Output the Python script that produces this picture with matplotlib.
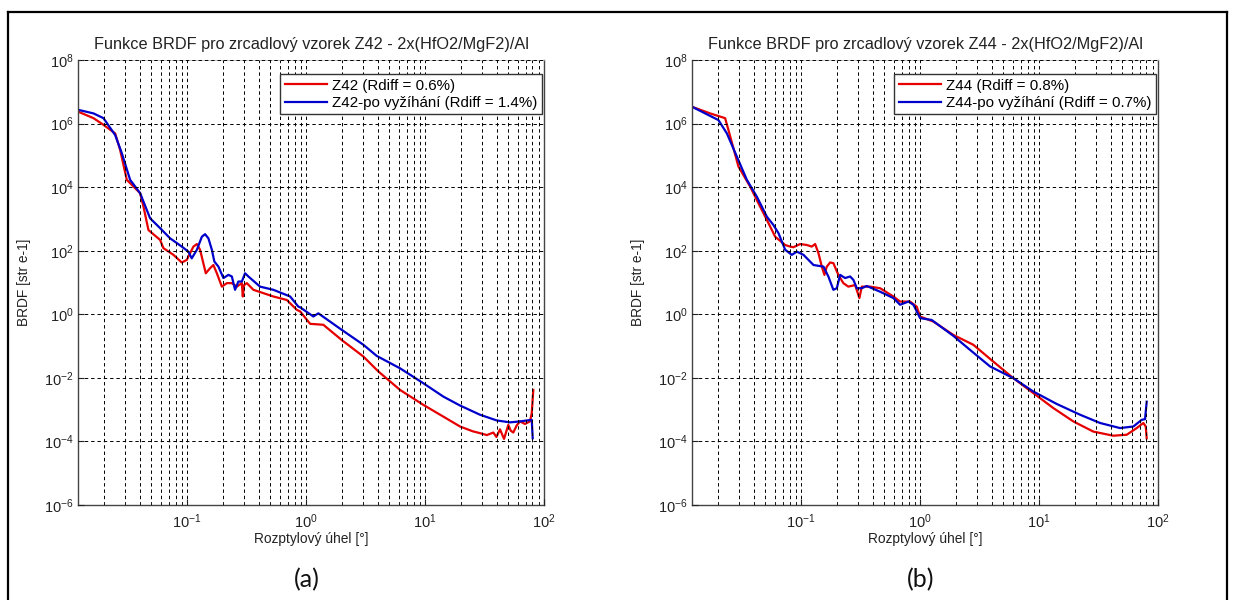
import numpy as np
import matplotlib
matplotlib.use("Agg")
import matplotlib.pyplot as plt
from matplotlib.lines import Line2D
from matplotlib.ticker import LogLocator, NullFormatter, FixedLocator

plt.rcParams['font.family'] = ['Liberation Sans', 'DejaVu Sans']
plt.rcParams['mathtext.default'] = 'regular'
plt.rcParams['axes.unicode_minus'] = False

# ---------------- data (log10 of angle [deg], log10 of BRDF) ----------------
z42_lx = [-1.913, -1.787, -1.703, -1.605, -1.563, -1.507, -1.395, -1.367, -1.325, -1.227,
          -1.199, -1.115, -1.045, -1.003, -0.947, -0.918, -0.891, -0.843, -0.807, -0.779,
          -0.750, -0.708, -0.666, -0.624, -0.582, -0.540, -0.532, -0.521, -0.498, -0.443,
          -0.275, -0.162, -0.078, -0.050, 0.034, 0.145, 0.300, 0.482, 0.608, 0.790,
          0.986, 1.154, 1.294, 1.400, 1.462, 1.520, 1.574, 1.600, 1.630, 1.664,
          1.700, 1.720, 1.742, 1.770, 1.798, 1.840, 1.882, 1.897, 1.910]
z42_ly = [6.37, 6.17, 5.96, 5.69, 5.17, 4.23, 3.81, 3.39, 2.65, 2.34,
          2.08, 1.87, 1.63, 1.71, 2.13, 2.21, 2.03, 1.29, 1.45, 1.55,
          1.29, 0.87, 0.98, 0.98, 0.87, 0.98, 0.56, 0.92, 0.98, 0.77,
          0.56, 0.45, 0.14, 0.09, -0.30, -0.33, -0.81, -1.33, -1.80, -2.38,
          -2.85, -3.22, -3.53, -3.68, -3.74, -3.80, -3.72, -3.86, -3.62, -3.92,
          -3.48, -3.66, -3.72, -3.50, -3.37, -3.45, -3.37, -3.11, -2.38]

z42po_lx = [-1.913, -1.787, -1.703, -1.605, -1.549, -1.479, -1.395, -1.311, -1.227, -1.143,
            -1.045, -0.989, -0.961, -0.918, -0.876, -0.849, -0.821, -0.792, -0.771, -0.737,
            -0.695, -0.653, -0.624, -0.597, -0.569, -0.540, -0.513, -0.485, -0.387, -0.275,
            -0.134, -0.065, -0.050, 0.061, 0.103, 0.300, 0.482, 0.594, 0.790, 0.986,
            1.154, 1.294, 1.462, 1.603, 1.714, 1.798, 1.897, 1.905]
z42po_ly = [6.43, 6.32, 6.17, 5.64, 5.07, 4.23, 3.81, 3.02, 2.71, 2.39,
            2.13, 1.97, 1.76, 2.03, 2.44, 2.52, 2.39, 2.03, 1.66, 1.50,
            1.14, 1.24, 1.19, 0.77, 1.03, 1.03, 1.29, 1.19, 0.87, 0.77,
            0.56, 0.24, 0.22, -0.07, 0.03, -0.49, -0.96, -1.31, -1.70, -2.17,
            -2.59, -2.87, -3.16, -3.34, -3.40, -3.37, -3.32, -3.90]

z44_lx = [-1.918, -1.765, -1.639, -1.611, -1.527, -1.429, -1.345, -1.288, -1.218, -1.134,
          -1.092, -1.065, -1.008, -0.952, -0.910, -0.882, -0.854, -0.826, -0.804, -0.784,
          -0.756, -0.729, -0.687, -0.645, -0.603, -0.546, -0.510, -0.490, -0.420, -0.336,
          -0.224, -0.168, -0.084, -0.028, 0.000, 0.112, 0.280, 0.448, 0.616, 0.784,
          0.952, 1.120, 1.288, 1.456, 1.624, 1.737, 1.821, 1.877, 1.897, 1.905]
z44_ly = [6.53, 6.32, 6.17, 5.80, 4.65, 4.02, 3.39, 2.97, 2.44, 2.18,
          2.13, 2.11, 2.21, 2.18, 2.13, 2.21, 1.92, 1.50, 1.24, 1.50,
          1.63, 1.61, 1.24, 0.98, 0.87, 0.92, 0.51, 0.87, 0.87, 0.82,
          0.56, 0.40, 0.40, 0.24, -0.07, -0.23, -0.65, -0.96, -1.49, -2.01,
          -2.48, -2.95, -3.37, -3.69, -3.82, -3.79, -3.58, -3.42, -3.53, -3.90]

z44po_lx = [-1.918, -1.695, -1.624, -1.540, -1.456, -1.372, -1.288, -1.233, -1.190, -1.134,
            -1.078, -1.036, -0.980, -0.896, -0.812, -0.771, -0.729, -0.700, -0.672, -0.630,
            -0.588, -0.560, -0.532, -0.490, -0.448, -0.336, -0.224, -0.168, -0.098, -0.056,
            0.000, 0.098, 0.280, 0.420, 0.588, 0.784, 0.952, 1.148, 1.345, 1.513,
            1.681, 1.793, 1.863, 1.891, 1.905]
z44po_ly = [6.53, 6.11, 5.69, 4.96, 4.23, 3.70, 3.07, 2.81, 2.55, 2.03,
            1.87, 1.97, 1.87, 1.55, 1.50, 1.19, 0.77, 0.82, 1.24, 1.14,
            1.19, 1.08, 0.82, 0.82, 0.89, 0.71, 0.51, 0.30, 0.40, 0.30,
            -0.12, -0.18, -0.68, -1.12, -1.64, -2.01, -2.43, -2.82, -3.16, -3.42,
            -3.58, -3.53, -3.32, -3.30, -2.75]

titles = ["Funkce BRDF pro zrcadlový vzorek Z42 - 2x(HfO2/MgF2)/Al",
          "Funkce BRDF pro zrcadlový vzorek Z44 - 2x(HfO2/MgF2)/Al"]
labels = [["Z42 (Rdiff = 0.6%)", "Z42-po vyžíhání (Rdiff = 1.4%)"],
          ["Z44 (Rdiff = 0.8%)", "Z44-po vyžíhání (Rdiff = 0.7%)"]]
panel_tags = ["(a)", "(b)"]
xlabel = "Rozptylový úhel [°]"
ylabel = "BRDF [str e-1]"
y_ticks = [1e-6, 1e-4, 1e-2, 1e0, 1e2, 1e4, 1e6, 1e8]

series = [((z42_lx, z42_ly), (z42po_lx, z42po_ly)),
          ((z44_lx, z44_ly), (z44po_lx, z44po_ly))]

RED = '#e60000'
BLUE = '#0000cc'

fig = plt.figure(figsize=(12.34, 6.0), dpi=100)
W, H = 1234, 600
lefts = [78, 692]
for i in range(2):
    ax = fig.add_axes([lefts[i] / W, (H - 505) / H, 466 / W, 445 / H])
    (rx, ry), (bx, by) = series[i]
    ax.plot(10 ** np.array(rx), 10 ** np.array(ry), color=RED, lw=1.6, label=labels[i][0])
    ax.plot(10 ** np.array(bx), 10 ** np.array(by), color=BLUE, lw=1.6, label=labels[i][1])
    ax.set_xscale('log')
    ax.set_yscale('log')
    ax.set_xlim(0.0121, 100)
    ax.set_ylim(1e-6, 1e8)
    ax.yaxis.set_major_locator(FixedLocator(y_ticks))
    ax.yaxis.set_minor_locator(FixedLocator([]))
    ax.xaxis.set_major_locator(LogLocator(base=10, numticks=10))
    ax.xaxis.set_minor_locator(LogLocator(base=10, subs=np.arange(2, 10), numticks=20))
    ax.xaxis.set_minor_formatter(NullFormatter())
    ax.grid(True, which='major', axis='both', color='black', lw=0.7, ls=(0, (3.5, 3)))
    ax.grid(True, which='minor', axis='x', color='black', lw=0.7, ls=(0, (3.5, 3)))
    ax.set_axisbelow(False)
    ax.tick_params(which='both', direction='in', labelsize=10.5, colors='#222222')
    ax.tick_params(which='major', length=4)
    ax.tick_params(which='minor', length=2)
    ax.tick_params(axis='x', pad=5)
    ax.tick_params(axis='y', pad=3)
    for s in ['left', 'bottom', 'right']:
        ax.spines[s].set_color('#444444')
        ax.spines[s].set_linewidth(1.0)
    ax.spines['top'].set_color('#bbbbbb')
    ax.spines['top'].set_linewidth(0.6)
    ax.set_title(titles[i], fontsize=11.7, pad=8, color='#222222')
    ax.set_xlabel(xlabel, fontsize=9.9, color='#222222')
    ax.xaxis.set_label_coords(0.5, -0.06)
    ax.set_ylabel(ylabel, fontsize=9.9, color='#222222')
    ax.yaxis.set_label_coords(-0.1, 0.5)
    leg = ax.legend(loc='upper right', bbox_to_anchor=(0.995, 0.968), fontsize=10.9,
                    handlelength=2.8, handletextpad=0.3, borderpad=0.3,
                    labelspacing=0.2, fancybox=False, framealpha=1, borderaxespad=0)
    leg.get_frame().set_edgecolor('#333333')
    leg.get_frame().set_linewidth(1.0)
    fig.text((lefts[i] + 229) / W, 1 - 580 / H, panel_tags[i], fontsize=18,
             family=['Lato', 'DejaVu Sans'], ha='center', va='center', color='#111111')

# outer frame
for (x0, y0, x1, y1) in [(8, 12, 1227, 12), (8, 12, 8, 605), (1227, 12, 1227, 605)]:
    fig.add_artist(Line2D([x0 / W, x1 / W], [1 - y0 / H, 1 - y1 / H],
                          transform=fig.transFigure, color='black', lw=1.6))

fig.savefig('out.png', dpi=100)
